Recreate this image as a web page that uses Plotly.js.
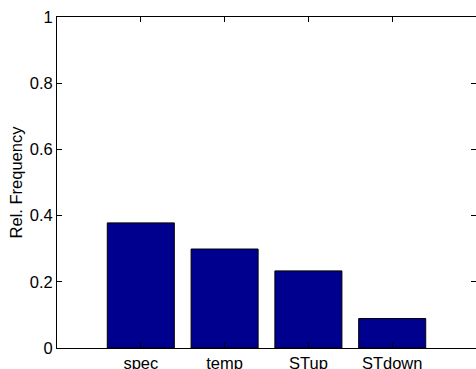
<!DOCTYPE html>
<html>
<head>
<meta charset="utf-8">
<script src="https://cdn.plot.ly/plotly-3.0.1.min.js"></script>
<style>html,body{margin:0;padding:0;background:#fff;overflow:hidden;width:476px;height:369px;}</style>
</head>
<body>
<div id="chart" style="width:490px;height:369px;"></div>
<script>
const categories = ["spec", "temp", "STup", "STdown"];
const relFrequency = [0.378, 0.299, 0.233, 0.089];
const yTickValues = [0, 0.2, 0.4, 0.6, 0.8, 1];
const yTickLabels = ["0", "0.2", "0.4", "0.6", "0.8", "1"];

const font = {family: "Liberation Sans, Arial, sans-serif", size: 16.5, color: "#000"};

Plotly.newPlot("chart", [{
  type: "bar",
  x: categories,
  y: relFrequency,
  width: 0.8,
  marker: {color: "#00008F", line: {color: "#000", width: 1}},
  hoverinfo: "none"
}, {
  type: "scatter", mode: "none",
  x: categories, y: relFrequency,
  yaxis: "y2", hoverinfo: "none", showlegend: false
}], {
  width: 490, height: 369,
  margin: {l: 57, r: 14, t: 17, b: 21},
  paper_bgcolor: "#fff", plot_bgcolor: "#fff",
  font: font,
  showlegend: false,
  xaxis: {
    type: "category",
    range: [-1, 4],
    showline: true, linecolor: "#000", linewidth: 1, mirror: "ticks",
    ticks: "inside", ticklen: 5, tickcolor: "#000",
    showgrid: false, zeroline: false, automargin: false,
    tickfont: font
  },
  yaxis: {
    range: [0, 1],
    tickvals: yTickValues, ticktext: yTickLabels,
    showline: true, linecolor: "#000", linewidth: 1, mirror: false,
    ticks: "inside", ticklen: 5, tickcolor: "#000",
    showgrid: false, zeroline: false, automargin: false,
    tickfont: font,
    title: {text: "Rel. Frequency", font: font, standoff: 2}
  },
  yaxis2: {
    overlaying: "y", side: "right",
    range: [0, 1],
    tickvals: yTickValues, showticklabels: false,
    showline: false, ticks: "inside", ticklen: 5, tickcolor: "#000",
    showgrid: false, zeroline: false, automargin: false
  }
}, {staticPlot: true});
</script>
</body>
</html>
